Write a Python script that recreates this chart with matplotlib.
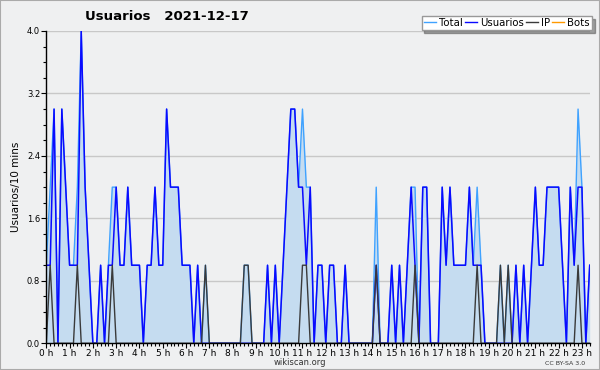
import matplotlib
matplotlib.use("Agg")
import matplotlib.pyplot as plt
import numpy as np
from matplotlib.patches import Rectangle

# 10-minute slots from 0:00 to 23:20
usuarios = [1,1,3,0,3,2,1,1,1,4, 2,1,0,0,1,0,1,1,2,1,
            1,2,1,1,1,0,1,1,2,1, 1,3,2,2,2,1,1,1,0,1,
            0,0,0,0,0,0,0,0,0,0, 0,0,0,0,0,0,0,1,0,1,
            0,1,2,3,3,2,2,1,2,0, 1,1,0,1,1,0,0,1,0,0,
            0,0,0,0,0,1,0,0,0,1, 0,1,0,1,2,1,0,2,2,0,
            0,0,2,1,2,1,1,1,1,2, 1,1,1,0,0,0,0,0,0,0,
            0,1,0,1,0,1,2,1,1,2, 2,2,2,1,0,2,1,2,2,0,
            1]
ip_slots = [1, 8, 17, 41, 51, 52, 66, 67, 85, 95, 111, 117, 119, 137]
ip = [1 if i in ip_slots else 0 for i in range(len(usuarios))]
bots = [0] * len(usuarios)
total = [u + p + b for u, p, b in zip(usuarios, ip, bots)]

hour_labels = [f"{h} h" for h in range(24)]
y_ticks = [0.0, 0.8, 1.6, 2.4, 3.2, 4.0]

x = np.arange(len(usuarios)) / 6.0

fig = plt.figure(figsize=(6, 3.7), dpi=100)
fig.patch.set_facecolor("#eff0f1")
ax = fig.add_axes([46.3/600, 1-343.3/370, (589.7-46.3)/600, (343.3-31)/370])
ax.set_facecolor("#eff0f1")

ax.fill_between(x, total, color="#c5dcf0", lw=0, zorder=1)
ax.plot(x, bots, color="#ff9900", lw=0.8, zorder=0.5)
ax.plot(x, total, color="#3fa2ff", lw=1, zorder=3, label="Total")
ax.plot(x, usuarios, color="#0a0aff", lw=1.1, zorder=4, label="Usuarios")
ax.plot(x, ip, color="#3a3a3a", lw=1, zorder=5, label="IP")

ax.set_xlim(0, x[-1])
ax.set_ylim(0, 4.0)
ax.set_yticks(y_ticks)
ax.set_yticklabels([f"{v:.1f}" for v in y_ticks], fontsize=6)
ax.set_yticks(np.arange(0, 4.01, 0.2), minor=True)
hours = [h for h in range(24) if h <= x[-1]]
ax.set_xticks(hours)
ax.set_xticklabels(hour_labels[:len(hours)], fontsize=6.5)
ax.set_xticks(x, minor=True)
ax.tick_params(axis="both", which="major", length=3.5, width=0.8, pad=0.5, colors="black")
ax.tick_params(axis="both", which="minor", length=2.2, width=0.8)
ax.tick_params(axis="y", which="major", pad=1)
ax.yaxis.grid(True, color="#c8c8c8", lw=1)
ax.set_axisbelow(True)
for s in ["top", "right"]:
    ax.spines[s].set_visible(False)
ax.spines["left"].set_linewidth(1)
ax.spines["bottom"].set_linewidth(1)
ax.spines["left"].set_zorder(6)
ax.spines["bottom"].set_zorder(6)

ax.set_ylabel("Usuarios/10 mins", fontsize=7.5, labelpad=4)
fig.text(85/600, 1-16/370, "Usuarios   2021-12-17", fontsize=9.5, fontweight="bold",
         ha="left", va="center")
fig.text(300/600, 1-362.5/370, "wikiscan.org", fontsize=6, ha="center", va="center", color="#333333")
fig.text(565/600, 1-363.5/370, "CC BY-SA 3.0", fontsize=4.5, ha="center", va="center", color="#333333")

handles = [plt.Line2D([], [], color=c, lw=1) for c in ["#3fa2ff", "#0a0aff", "#3a3a3a", "#ff9900"]]
leg = fig.legend(handles, ["Total", "Usuarios", "IP", "Bots"], loc="upper right",
                 bbox_to_anchor=(592/600, 1-16/370), ncol=4, fontsize=7.3, frameon=True,
                 fancybox=False, shadow=True, handlelength=1.2, handletextpad=0.3,
                 columnspacing=0.2, borderpad=0.2, borderaxespad=0)
leg.get_frame().set_edgecolor("#999999")
leg.get_frame().set_linewidth(1)

fig.patches.append(Rectangle((0, 0), 1, 1, transform=fig.transFigure, fill=False,
                             edgecolor="#aaaaaa", lw=1.5))

fig.savefig("out.png", dpi=100, facecolor=fig.get_facecolor())
